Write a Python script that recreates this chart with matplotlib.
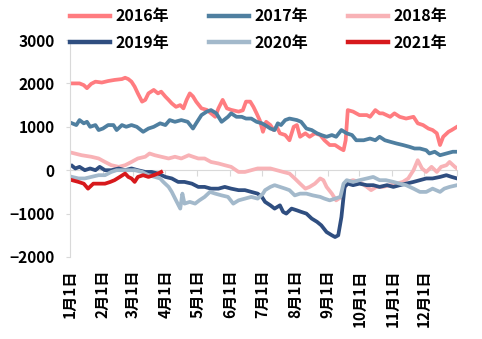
import matplotlib
matplotlib.use("Agg")
import matplotlib.pyplot as plt
from matplotlib.lines import Line2D

plt.rcParams["font.family"] = ["Noto Sans CJK SC", "DejaVu Sans"]
plt.rcParams["font.weight"] = "bold"

# day of year -> spread value
days_2016 = [2, 9, 13, 16, 20, 24, 30, 36, 42, 49, 52, 55, 58, 61, 64, 68, 71, 74, 79, 83, 86, 90,
             93, 96, 100, 104, 107, 110, 113, 116, 119, 124, 129, 133, 137, 140, 144, 148, 152,
             159, 163, 166, 170, 173, 176, 179, 182, 185, 189, 192, 195, 198, 203, 207, 211, 214,
             217, 222, 226, 231, 236, 240, 245, 250, 255, 258, 260, 262, 267, 273, 280, 283, 288,
             292, 295, 302, 306, 311, 317, 324, 328, 333, 338, 342, 346, 349, 352, 357, 360, 365]
vals_2016 = [2000, 2000, 1960, 1890, 1990, 2040, 2020, 2055, 2080, 2100, 2130, 2100, 2040, 1925,
             1770, 1580, 1620, 1770, 1850, 1770, 1810, 1695, 1620, 1540, 1460, 1500, 1425, 1620,
             1770, 1700, 1580, 1425, 1390, 1310, 1230, 1425, 1620, 1425, 1390, 1350, 1380, 1580,
             1580, 1460, 1310, 1150, 885, 1115, 1040, 925, 1000, 850, 810, 690, 1000, 1040, 770,
             850, 770, 850, 810, 690, 580, 580, 500, 460, 690, 1385, 1350, 1270, 1270, 1230, 1385,
             1310, 1310, 1230, 1310, 1230, 1190, 1230, 1080, 1040, 960, 925, 850, 580, 770, 885,
             925, 1000]

days_2017 = [2, 6, 9, 13, 16, 19, 24, 27, 31, 36, 41, 44, 49, 53, 58, 63, 69, 74, 79, 85, 90, 94,
             99, 105, 111, 116, 119, 124, 129, 133, 138, 143, 149, 152, 157, 162, 166, 171, 176,
             181, 184, 189, 193, 196, 199, 203, 207, 214, 218, 223, 228, 233, 237, 242, 247, 251,
             256, 261, 266, 270, 277, 283, 288, 292, 297, 302, 308, 314, 320, 325, 330, 336, 339,
             344, 349, 355, 361, 365]
vals_2017 = [1080, 1040, 1155, 1080, 1115, 1000, 1040, 925, 960, 1040, 1040, 925, 1040, 1000,
             1040, 1000, 885, 960, 1000, 1080, 1040, 1155, 1115, 1155, 1115, 960, 1080, 1270, 1350,
             1385, 1310, 1115, 1230, 1310, 1230, 1230, 1190, 1190, 1115, 1080, 1040, 960, 925,
             1080, 1040, 1155, 1190, 1155, 1115, 960, 925, 850, 810, 770, 810, 770, 925, 850, 810,
             690, 690, 730, 690, 770, 690, 655, 615, 580, 540, 500, 500, 460, 385, 425, 345, 385,
             425, 425]

days_2018 = [2, 11, 20, 27, 33, 39, 46, 52, 58, 64, 71, 75, 80, 86, 93, 99, 105, 112, 116, 121,
             127, 133, 140, 146, 152, 159, 165, 171, 177, 184, 189, 195, 201, 207, 212, 217, 222,
             226, 231, 236, 239, 242, 247, 251, 256, 261, 267, 273, 280, 284, 289, 295, 302, 308,
             314, 319, 324, 328, 332, 336, 341, 346, 350, 355, 358, 363, 365]
vals_2018 = [400, 345, 310, 270, 190, 115, 77, 115, 190, 270, 310, 385, 345, 310, 270, 310, 270,
             345, 310, 270, 270, 190, 155, 115, 77, -40, -40, 0, 40, 40, 40, 0, -40, -77, -190,
             -310, -425, -385, -310, -190, -230, -385, -540, -695, -615, -270, -230, -270, -385,
             -460, -385, -385, -345, -310, -270, -190, 0, 230, 40, -40, 77, -40, 77, 115, 190, 77,
             40]

days_2019 = [2, 5, 9, 14, 19, 24, 28, 33, 39, 46, 52, 58, 64, 71, 77, 83, 90, 96, 102, 108, 115,
             121, 127, 133, 140, 146, 152, 159, 165, 171, 177, 181, 184, 189, 193, 198, 201, 204,
             209, 214, 218, 223, 228, 233, 237, 242, 247, 250, 253, 256, 259, 262, 267, 273, 280,
             286, 292, 299, 305, 311, 317, 324, 330, 336, 342, 349, 355, 360, 365]
vals_2019 = [100, 40, 77, 0, 40, 0, 77, 0, 0, 40, 0, 40, 0, -40, -40, -77, -155, -190, -270, -270,
             -310, -385, -385, -425, -425, -385, -425, -460, -460, -500, -540, -615, -730, -810,
             -885, -810, -960, -1000, -885, -925, -960, -1000, -1115, -1190, -1270, -1425, -1500,
             -1540, -1500, -1080, -385, -310, -345, -310, -345, -345, -385, -345, -385, -345, -310,
             -270, -230, -190, -190, -155, -115, -155, -190]

days_2020 = [2, 8, 14, 20, 27, 33, 39, 44, 49, 55, 61, 68, 74, 80, 85, 88, 93, 96, 100, 104, 106,
             108, 113, 118, 122, 127, 132, 137, 143, 149, 154, 159, 165, 171, 177, 182, 184, 189,
             193, 198, 203, 207, 212, 217, 223, 229, 236, 240, 245, 250, 255, 258, 261, 267, 273,
             280, 286, 292, 298, 305, 311, 317, 324, 330, 336, 342, 349, 353, 358, 365]
vals_2020 = [-155, -190, -190, -155, -115, -115, -40, 0, 0, 0, 0, -40, -115, -155, -190, -270,
             -385, -500, -695, -885, -540, -770, -730, -770, -695, -615, -500, -540, -580, -615,
             -770, -695, -655, -615, -655, -540, -460, -385, -345, -385, -425, -460, -580, -540,
             -540, -580, -615, -655, -695, -655, -615, -310, -230, -270, -230, -190, -155, -230,
             -230, -270, -310, -345, -425, -500, -500, -425, -500, -425, -385, -345]

days_2021 = [2, 8, 13, 17, 22, 27, 33, 38, 42, 47, 52, 55, 58, 61, 64, 69, 74, 79, 83, 86]
vals_2021 = [-230, -270, -310, -425, -310, -310, -310, -270, -230, -155, -77, -155, -190, -270,
             -155, -115, -155, -115, -77, -40]

years = ["2016年", "2017年", "2018年", "2019年", "2020年", "2021年"]
colors = ["#FF7C80", "#4F7FA0", "#F8B2B6", "#2F4E80", "#A3B9CB", "#D7191C"]

month_starts = [0, 31, 59, 90, 120, 151, 181, 212, 243, 273, 304, 334]
month_labels = [f"{m}月1日" for m in range(1, 13)]

fig = plt.figure(figsize=(4.82, 3.39), dpi=100)
ax = fig.add_axes([0.1452, 0.2419, 0.8029, 0.6401])

series = [
    (days_2016, vals_2016),
    (days_2017, vals_2017),
    (days_2018, vals_2018),
    (days_2019, vals_2019),
    (days_2020, vals_2020),
    (days_2021, vals_2021),
]
for (d, v), name, c in zip(series, years, colors):
    ax.plot(d, v, color=c, lw=2.7, label=name, solid_joinstyle="round")

ax.set_xlim(0, 365)
ax.set_ylim(-2000, 3000)
ax.set_yticks([-2000, -1000, 0, 1000, 2000, 3000])

grey = "#D9D9D9"
for s in ["top", "right"]:
    ax.spines[s].set_visible(False)
ax.spines["left"].set_color(grey)
ax.spines["bottom"].set_color(grey)
ax.spines["bottom"].set_position(("data", 0))
ax.spines["bottom"].set_zorder(0)

ax.set_xticks(month_starts + [365])
ax.tick_params(axis="x", direction="out", length=4, color=grey, labelbottom=False)
ax.tick_params(axis="y", direction="out", length=3, color=grey, pad=8, labelsize=11.2)

# month labels sit under the plot, not on the zero line
sec = ax.secondary_xaxis("bottom")
sec.set_xticks(month_starts)
sec.set_xticklabels(month_labels, rotation=90, fontsize=11)
sec.tick_params(length=0, pad=9)
sec.spines["bottom"].set_visible(False)

handles = [Line2D([], [], color=c, lw=3.2) for c in colors]
order = [0, 3, 1, 4, 2, 5]
fig.legend([handles[i] for i in order], [years[i] for i in order],
           ncol=3, loc="upper left", bbox_to_anchor=(0.145, 0.976),
           frameon=False, fontsize=11.5, handlelength=2.5, handletextpad=0.35,
           columnspacing=2.5, labelspacing=0.68, borderpad=0, borderaxespad=0)

fig.savefig("out.png", dpi=100)
